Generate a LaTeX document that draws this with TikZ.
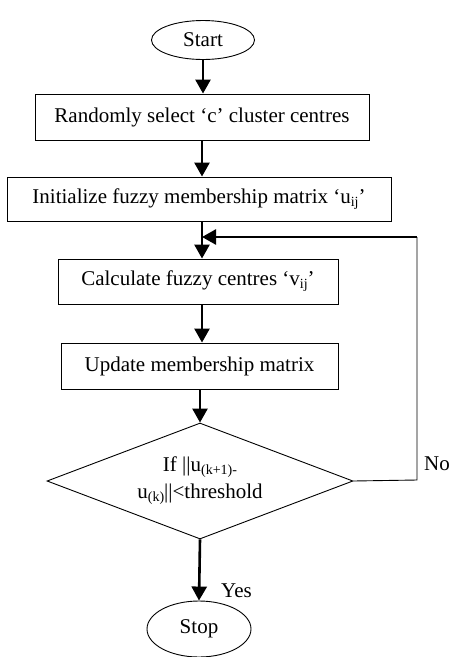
\documentclass[tikz,border=0pt]{standalone}
\usepackage{fontspec}
\setmainfont{Liberation Serif}
\usetikzlibrary{shapes.geometric,arrows.meta}
% lowered small index, as in u_ij
\newcommand{\lowidx}[1]{\raisebox{-0.3ex}{\fontsize{14}{14}\selectfont #1}}
\begin{document}
\begin{tikzpicture}[x=1pt,y=-1pt,
  every node/.style={font=\fontsize{21}{27}\selectfont, inner sep=0pt},
  procbox/.style={draw, line width=0.9pt, rectangle},
  term/.style={draw, line width=0.9pt, ellipse},
  decide/.style={draw, line width=0.9pt, diamond, aspect=2.64, align=center},
  arr/.style={line width=2.6pt, -{Triangle[width=15pt,length=14pt]}},
  loopline/.style={line width=0.9pt}]
\useasboundingbox (0,0) rectangle (449,657);

% terminals
\node[term, minimum width=103pt, minimum height=39pt] (start) at (203,40) {Start};
\node[term, minimum width=104pt, minimum height=56pt] (stop) at (199,629) {Stop};

% process steps
\node[procbox, minimum width=334pt, minimum height=46pt] (select) at (202,117)
  {Randomly select ‘c’ cluster centres};
\node[procbox, minimum width=384pt, minimum height=44pt] (init) at (199,199)
  {Initialize fuzzy membership matrix ‘u\lowidx{ij}’};
\node[procbox, minimum width=280pt, minimum height=45pt] (centres) at (198,281.5)
  {Calculate fuzzy centres ‘v\lowidx{ij}’};
\node[procbox, minimum width=277pt, minimum height=46pt] (update) at (199.5,366)
  {Update membership matrix};

% convergence test
\node[decide, minimum width=306pt, minimum height=116pt] (test) at (200,481)
  {If ||u\lowidx{(k+1)-}\\u\lowidx{(k)}||<threshold};

% main flow
\draw[arr] (start.south) -- (start.south |- select.north);
\draw[arr] (select.south) -- (select.south |- init.north);
\draw[arr] (init.south -| select.south) -- (centres.north -| select.south);
\draw[arr] (centres.south -| select.south) -- (update.north -| select.south);
\draw[arr] (update.south -| test.north) -- (test.north);
\draw[arr] (test.south) -- (stop.north);

% loop back when not converged
\coordinate (loopB) at (417,480);
\coordinate (loopT) at (417,237);
\coordinate (merge) at (select.south |- loopT);
\draw[loopline] (test.east) -- (loopB) -- (loopT);
\draw[arr] ([xshift=0.45pt]loopT) -- (merge);

% branch labels
\node[anchor=west] (no) at (424,464) {No};
\node[anchor=west] (yes) at (221,591) {Yes};
\end{tikzpicture}
\end{document}
